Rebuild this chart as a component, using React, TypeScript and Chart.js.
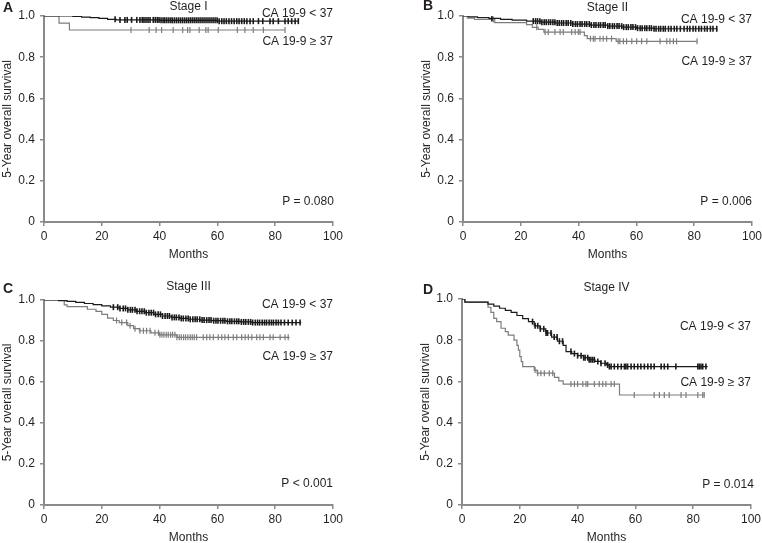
import React, { useEffect, useRef } from "react";
import { Chart, registerables } from "chart.js";
Chart.register(...registerables);

const FONT = "'Liberation Sans', Arial, sans-serif";
const BLACK = "#1a1a1a";
const GRAY = "#7d7d7d";
const AXIS = "#8a8a8a";

const X_TICKS = [0, 20, 40, 60, 80, 100];
const Y_TICKS = [0, 0.2, 0.4, 0.6, 0.8, 1.0];
const Y_TICK_LABELS = ["0", "0.2", "0.4", "0.6", "0.8", "1.0"];

const LOW_LABEL = "CA 19-9 < 37";
const HIGH_LABEL = "CA 19-9 ≥ 37";

// ---------- Stage I ----------
const A_LOW_T = [0, 10, 13, 16, 19, 22, 25, 40, 60, 88];
const A_LOW_S = [1, 0.998, 0.995, 0.992, 0.988, 0.984, 0.981, 0.979, 0.975, 0.975];
const A_LOW_C = [24.6, 26.3, 28, 28.8, 30.3, 32.1, 33.2, 34, 34.6, 35.3, 36, 36.7, 37.8, 38.5, 39.2, 39.8, 40.5, 41.2, 41.8, 42.5, 43.2, 43.9, 44.5, 45.2, 45.9, 46.6, 47.3, 48, 48.7, 49.4, 50.1, 50.8, 51.5, 52.2, 52.9, 53.6, 54.3, 55, 55.7, 56.4, 57.1, 57.8, 58.5, 59.2, 59.9, 60.6, 61.5, 62.3, 63.1, 64, 64.9, 65.8, 66.7, 67.5, 68.4, 69.3, 70.2, 71.3, 72.4, 74.2, 75.7, 78.2, 79.3, 81.1, 83.4, 84.5, 85.7, 86.9, 88];
const A_HIGH_T = [0, 5.2, 8.8, 83.4];
const A_HIGH_S = [1, 0.965, 0.932, 0.932];
const A_HIGH_C = [30.1, 36.4, 38.8, 40.7, 44.7, 48, 49.7, 50.5, 53.7, 56, 56.8, 60.3, 66.9, 69.5, 72.4, 75.9, 83.4];

// ---------- Stage II ----------
const B_LOW_T = [0, 2, 5, 9, 13, 17, 22, 27, 32, 38, 44, 50, 55, 60, 66, 88];
const B_LOW_S = [1, 0.996, 0.992, 0.988, 0.984, 0.98, 0.975, 0.97, 0.966, 0.961, 0.956, 0.951, 0.946, 0.941, 0.938, 0.938];
const B_LOW_C = [10, 24.3, 25.1, 25.8, 26.6, 27.3, 28.1, 28.8, 29.6, 30.3, 31.1, 31.8, 32.6, 33.3, 34.1, 34.8, 35.7, 36.4, 37.3, 38, 38.9, 39.6, 40.5, 41.2, 42.1, 42.8, 43.7, 44.4, 45.3, 46, 46.9, 47.6, 48.5, 49.2, 50.1, 50.8, 51.7, 52.4, 53.3, 54, 54.9, 55.6, 56.5, 57.2, 58.1, 58.8, 59.7, 60.4, 61.3, 62, 62.9, 63.6, 64.5, 65.2, 66.1, 66.8, 67.7, 68.4, 69.3, 70, 71.1, 72, 73.1, 74, 75.2, 76.5, 77.6, 78.5, 79.6, 80.5, 81.6, 82.5, 83.6, 84.5, 85.6, 86.5, 87.8];
const B_HIGH_T = [0, 1.5, 4, 11, 22, 24, 26, 28, 42, 43, 53, 81];
const B_HIGH_S = [1, 0.99, 0.983, 0.968, 0.958, 0.945, 0.935, 0.922, 0.905, 0.89, 0.877, 0.877];
const B_HIGH_C = [10.5, 25.5, 28.4, 29.5, 31.8, 33.6, 34.7, 37.6, 38.8, 39.9, 40.5, 44.1, 45.1, 45.7, 47.4, 48.5, 49.7, 51.4, 53.7, 54.3, 55.5, 56.6, 58.4, 60.1, 61.8, 63.6, 68.2, 70.5, 71.6, 72.8, 73.9, 81];

// ---------- Stage III ----------
const C_LOW_T = [0, 5, 8, 11, 14, 17, 20, 23, 26, 29, 32, 35, 38, 41, 44, 47, 50, 54, 58, 63, 68, 72, 89];
const C_LOW_S = [1, 0.997, 0.993, 0.988, 0.983, 0.977, 0.971, 0.965, 0.959, 0.952, 0.945, 0.938, 0.93, 0.922, 0.915, 0.91, 0.906, 0.902, 0.899, 0.896, 0.893, 0.89, 0.89];
const C_LOW_C = [24, 25.5, 26.3, 27.4, 28.2, 29, 29.9, 30.6, 31.5, 32.2, 33.1, 33.9, 34.7, 35.4, 36.3, 37.1, 37.9, 38.6, 39.5, 40.3, 41, 41.9, 42.7, 43.4, 44.3, 45.1, 45.8, 46.7, 47.5, 48.2, 49.1, 49.9, 50.6, 51.5, 52.3, 53, 53.9, 54.7, 55.4, 56.3, 57.1, 57.8, 58.7, 59.5, 60.2, 61.1, 61.9, 62.6, 63.5, 64.3, 65, 65.9, 66.7, 67.4, 68.3, 69.1, 69.8, 70.7, 71.5, 72.2, 73.1, 73.9, 74.6, 75.5, 76.3, 77, 77.9, 78.7, 79.4, 80.3, 81.1, 82, 83.2, 84.5, 85.9, 87.2, 88.6];
const C_HIGH_T = [0, 7, 8, 15, 18, 20, 22, 24, 26, 29, 31, 33, 37, 40, 46, 85];
const C_HIGH_S = [1, 0.976, 0.968, 0.955, 0.945, 0.93, 0.912, 0.9, 0.89, 0.875, 0.86, 0.85, 0.84, 0.83, 0.818, 0.818];
const C_HIGH_C = [25.1, 26.9, 28.6, 29.8, 31.5, 33.2, 34.4, 35.5, 36.7, 38.4, 39.6, 40.1, 40.8, 41.5, 42.3, 43, 43.8, 44.5, 45.3, 46, 46.8, 47.5, 48.3, 49, 49.8, 50.6, 51.3, 52, 52.8, 55.1, 56.3, 57.4, 58.6, 60.3, 61.5, 62.6, 63.8, 65.5, 66.7, 68.4, 69.6, 70.7, 71.9, 73.6, 74.7, 75.9, 78.2, 79.3, 81.7, 83.4, 84.5];

// ---------- Stage IV ----------
const D_LOW_T = [0, 1, 9, 11, 13, 15, 17, 19, 21, 23, 25, 27, 29, 31, 33, 35, 36, 38, 40, 42, 44, 46, 48, 50, 51, 85];
const D_LOW_S = [1, 0.985, 0.975, 0.965, 0.955, 0.945, 0.935, 0.92, 0.905, 0.89, 0.87, 0.855, 0.835, 0.815, 0.795, 0.775, 0.745, 0.735, 0.725, 0.715, 0.705, 0.697, 0.688, 0.68, 0.672, 0.672];
const D_LOW_C = [24.4, 25.3, 26.2, 27.1, 28.3, 29.1, 29.6, 30.8, 31.9, 32.9, 33.7, 34.8, 37.7, 38.9, 40, 41.2, 42.1, 42.6, 43.5, 44, 44.6, 45.2, 45.8, 47, 48.1, 49.5, 50.4, 51, 51.6, 52.7, 53.9, 55.1, 56.2, 56.7, 57.3, 58.5, 59.6, 60.8, 61.9, 63.1, 64.3, 65.4, 66.5, 68.9, 70, 71.2, 74, 81.6, 82.1, 82.7, 83.3, 84.4];
const D_HIGH_T = [0, 1, 9, 10, 11, 12, 13.5, 15, 16, 18, 19, 19.5, 20, 20.5, 21, 25, 26, 32, 33.5, 35, 54.5, 84];
const D_HIGH_S = [1, 0.985, 0.96, 0.935, 0.906, 0.89, 0.858, 0.842, 0.825, 0.8, 0.775, 0.752, 0.72, 0.696, 0.672, 0.655, 0.64, 0.62, 0.603, 0.587, 0.534, 0.534];
const D_HIGH_C = [25.3, 26.2, 27.3, 28.5, 30.2, 31.4, 37.7, 38.9, 40, 41.8, 42.9, 43.5, 45.8, 47.5, 48.7, 49.8, 51.6, 52.7, 59.6, 66.5, 68.3, 70, 71.7, 75.8, 77.5, 81.6, 83.3, 83.8];

function survAt(times: number[], surv: number[], t: number) {
  let v = surv[0];
  for (let i = 0; i < times.length; i++) if (times[i] <= t) v = surv[i];
  return v;
}

type Group = { t: number[]; s: number[]; c: number[] };
type PanelCfg = {
  left: number; top: number; w: number; h: number;
  padTop: number; padRight: number; plotBottom: number;
  letter: string; letterX: number; letterY: number;
  title: string; titleY: number; monthsY: number;
  low: Group; high: Group;
  lowLabelY: number; highLabelY: number; pText: string; pY: number; pX: number;
};

const PANELS: PanelCfg[] = [
  { left: 0, top: 0, w: 381, h: 271, padTop: 16, padRight: 48, plotBottom: 222,
    letter: "A", letterX: 3, letterY: 8, title: "Stage I", titleY: 7, monthsY: 255,
    low: { t: A_LOW_T, s: A_LOW_S, c: A_LOW_C }, high: { t: A_HIGH_T, s: A_HIGH_S, c: A_HIGH_C },
    lowLabelY: 1.013, highLabelY: 0.875, pText: "P = 0.080", pY: 0.099, pX: 100.3 },
  { left: 419, top: 0, w: 343, h: 271, padTop: 16, padRight: 10, plotBottom: 222,
    letter: "B", letterX: 4, letterY: 6, title: "Stage II", titleY: 7.5, monthsY: 255,
    low: { t: B_LOW_T, s: B_LOW_S, c: B_LOW_C }, high: { t: B_HIGH_T, s: B_HIGH_S, c: B_HIGH_C },
    lowLabelY: 0.981, highLabelY: 0.777, pText: "P = 0.006", pY: 0.097, pX: 100 },
  { left: 0, top: 271, w: 381, h: 272, padTop: 29, padRight: 48, plotBottom: 234,
    letter: "C", letterX: 3, letterY: 18, title: "Stage III", titleY: 16, monthsY: 267,
    low: { t: C_LOW_T, s: C_LOW_S, c: C_LOW_C }, high: { t: C_HIGH_T, s: C_HIGH_S, c: C_HIGH_C },
    lowLabelY: 0.976, highLabelY: 0.723, pText: "P < 0.001", pY: 0.102, pX: 100 },
  { left: 418, top: 271, w: 344, h: 272, padTop: 28, padRight: 11, plotBottom: 234,
    letter: "D", letterX: 5, letterY: 19, title: "Stage IV", titleY: 16.5, monthsY: 267,
    low: { t: D_LOW_T, s: D_LOW_S, c: D_LOW_C }, high: { t: D_HIGH_T, s: D_HIGH_S, c: D_HIGH_C },
    lowLabelY: 0.867, highLabelY: 0.595, pText: "P = 0.014", pY: 0.098, pX: 101 },
];

function makeTextPlugin(p: PanelCfg) {
  return {
    id: "panelText" + p.letter,
    afterDraw(chart: any) {
      const { ctx, chartArea, scales } = chart;
      const cx = (chartArea.left + chartArea.right) / 2;
      ctx.save();
      ctx.fillStyle = "#231f20";
      ctx.textBaseline = "middle";
      ctx.font = `bold 14px ${FONT}`;
      ctx.textAlign = "left";
      ctx.fillText(p.letter, p.letterX, p.letterY);
      ctx.font = `12px ${FONT}`;
      ctx.textAlign = "center";
      ctx.fillText(p.title, cx, p.titleY);
      ctx.fillText("Months", cx, p.monthsY);
      ctx.textAlign = "right";
      const xr = scales.x.getPixelForValue(100);
      ctx.fillText(LOW_LABEL, xr, scales.y.getPixelForValue(p.lowLabelY));
      ctx.fillText(HIGH_LABEL, xr, scales.y.getPixelForValue(p.highLabelY));
      ctx.fillText(p.pText, scales.x.getPixelForValue(p.pX), scales.y.getPixelForValue(p.pY));
      ctx.translate(8, (chartArea.top + chartArea.bottom) / 2);
      ctx.rotate(-Math.PI / 2);
      ctx.textAlign = "center";
      ctx.fillText("5-Year overall survival", 0, 0);
      ctx.restore();
    },
  };
}

function curveData(g: Group) {
  return g.t.map((t, i) => ({ x: t, y: g.s[i] }));
}
function censorData(g: Group) {
  return g.c.map((t) => ({ x: t, y: survAt(g.t, g.s, t) }));
}

function Panel({ p }: { p: PanelCfg }) {
  const ref = useRef<HTMLCanvasElement | null>(null);
  useEffect(() => {
    if (!ref.current) return;
    const censorStyle = (color: string, bw: number) => ({
      type: "scatter" as const,
      showLine: false,
      pointStyle: "line" as const,
      rotation: 90,
      pointRadius: 3,
      pointBorderWidth: bw,
      pointBorderColor: color,
      pointBackgroundColor: color,
      borderColor: color,
    });
    const lineStyle = (color: string, bw: number) => ({
      type: "line" as const,
      stepped: "before" as const,
      borderColor: color,
      borderWidth: bw,
      pointRadius: 0,
      fill: false,
    });
    const chart = new Chart(ref.current, {
      type: "line",
      data: {
        datasets: [
          { ...censorStyle(BLACK, 1.6), data: censorData(p.low) },
          { ...lineStyle(BLACK, 1.2), data: curveData(p.low) },
          { ...censorStyle(GRAY, 1.2), data: censorData(p.high) },
          { ...lineStyle(GRAY, 1.2), data: curveData(p.high) },
        ] as any,
      },
      options: {
        animation: false,
        responsive: false,
        devicePixelRatio: 1,
        layout: { padding: { left: 0, right: p.padRight, top: p.padTop, bottom: 0 } },
        plugins: { legend: { display: false }, tooltip: { enabled: false } },
        scales: {
          x: {
            type: "linear",
            min: 0,
            max: 100,
            afterBuildTicks: (s: any) => { s.ticks = X_TICKS.map((v) => ({ value: v })); },
            afterFit: (s: any) => { s.height = p.h - p.plotBottom; s.paddingLeft = 0; s.paddingRight = 0; },
            grid: { drawOnChartArea: false, drawTicks: true, tickLength: 4, color: AXIS, lineWidth: 1.5 },
            border: { display: true, color: AXIS, width: 2 },
            ticks: { color: "#231f20", font: { family: FONT, size: 12 }, padding: 3, maxRotation: 0, autoSkip: false },
          },
          y: {
            type: "linear",
            min: 0,
            max: 1,
            afterBuildTicks: (s: any) => { s.ticks = Y_TICKS.map((v) => ({ value: v })); },
            afterFit: (s: any) => { s.width = 44; s.paddingTop = 0; s.paddingBottom = 0; },
            grid: { drawOnChartArea: false, drawTicks: true, tickLength: 4, color: AXIS, lineWidth: 1.5 },
            border: { display: true, color: AXIS, width: 2 },
            ticks: {
              color: "#231f20",
              font: { family: FONT, size: 12 },
              padding: 5,
              autoSkip: false,
              callback: (_v: any, i: number) => Y_TICK_LABELS[i],
            },
          },
        },
      },
      plugins: [makeTextPlugin(p)],
    });
    return () => chart.destroy();
  }, [p]);
  return (
    <canvas
      ref={ref}
      width={p.w}
      height={p.h}
      style={{ position: "absolute", left: p.left, top: p.top, width: p.w, height: p.h }}
    />
  );
}

export default function App() {
  return (
    <div style={{ position: "absolute", left: 0, top: 0, width: 762, height: 543, background: "#fff" }}>
      {PANELS.map((p) => (
        <Panel key={p.letter} p={p} />
      ))}
    </div>
  );
}
